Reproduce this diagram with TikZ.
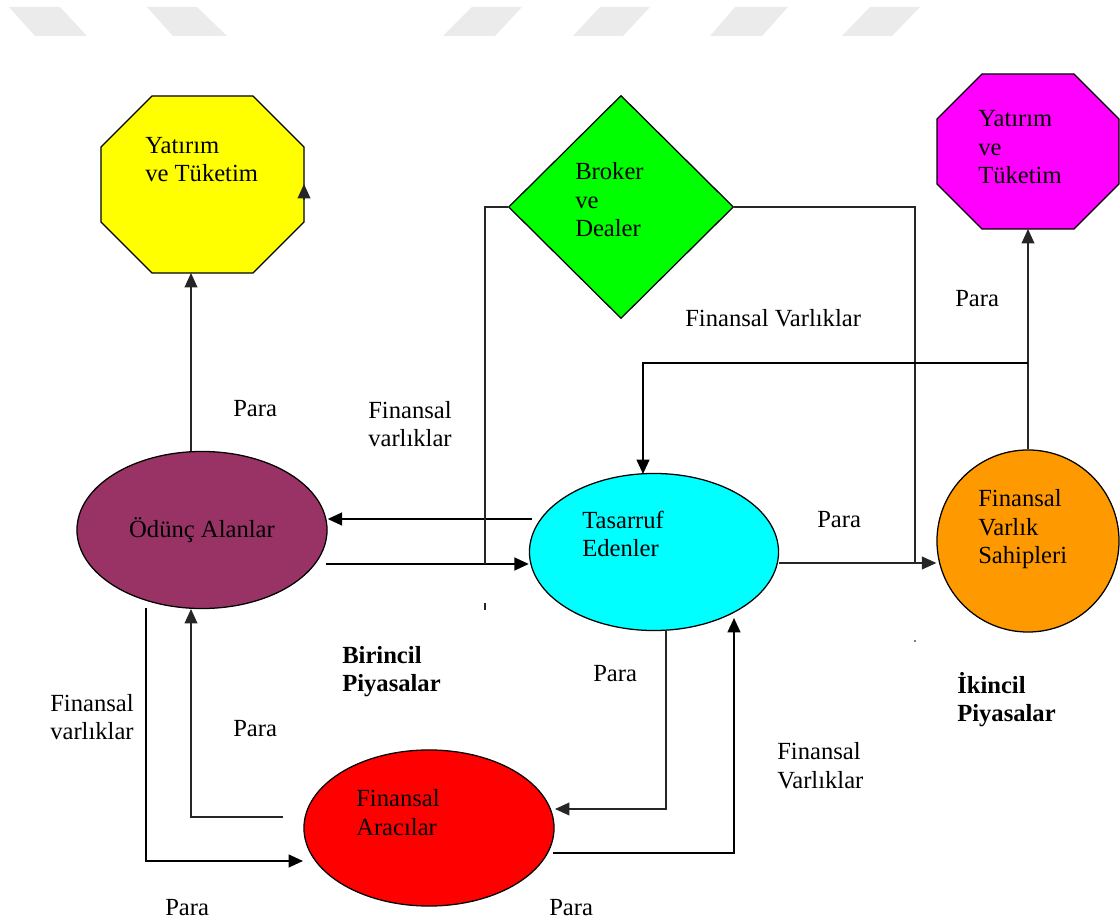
\documentclass[tikz,border=0pt]{standalone}
\usepackage{fontspec}
\setmainfont{Liberation Serif}
\usepackage{tikz}
\usetikzlibrary{arrows.meta,shapes.geometric}
\definecolor{plum}{HTML}{993366}
\definecolor{lemon}{HTML}{FFFF00}
\definecolor{lime}{HTML}{00FF00}
\definecolor{aqua}{HTML}{00FFFF}
\definecolor{pink}{HTML}{FF00FF}
\definecolor{amber}{HTML}{FF9900}
\definecolor{scarlet}{HTML}{FF0000}
\def\octa[#1](#2,#3,#4,#5)(#6){\draw[#1] (#2+#6,#3) -- (#4-#6,#3) -- (#4,#3+#6) -- (#4,#5-#6) -- (#4-#6,#5) -- (#2+#6,#5) -- (#2,#5-#6) -- (#2,#3+#6) -- cycle;}
\tikzset{
  conn/.style={line width=1.4pt},
  thinln/.style={line width=0.9pt, black!85},
  blob/.style={draw, line width=0.9pt, inner sep=0pt},
  txt/.style={anchor=base west, align=left, inner sep=0pt},
  stripe/.style={fill=black!8, draw=none},
  >={Triangle[length=0.36cm,width=0.32cm]}
}
\begin{document}
\begin{tikzpicture}[x=0.025cm, y=-0.025cm, font=\fontsize{17.5}{20.6}\selectfont]
		%%%%% START %%%%%
		\useasboundingbox (0,0) rectangle (1120,924);
		
		% faint stripes at the top
		\fill[stripe] (9,7) -- (60,7) -- (87,36) -- (35,36) -- cycle;
		\fill[stripe] (147,7) -- (197,7) -- (227,36) -- (173,36) -- cycle;
		\fill[stripe] (472,7) -- (522,7) -- (495,36) -- (443,36) -- cycle;
		\fill[stripe] (600,7) -- (650,7) -- (623,36) -- (573,36) -- cycle;
		\fill[stripe] (735,7) -- (788,7) -- (762,36) -- (710,36) -- cycle;
		\fill[stripe] (870,7) -- (920,7) -- (892,36) -- (842,36) -- cycle;
		
		% octagons (last line baseline given)
		\octa[fill=lemon, line width=0.9pt](101,96,304,273)(51);
		\node[txt] (yel-txt) at (145,182) {Yatırım\\ve Tüketim};
		\coordinate (yel-s) at (191,273);
		\draw[thinln,->] (304,200) -- (304,184);
		
		\octa[fill=pink, line width=0.9pt](937,74,1119,229)(45);
		\node[txt] (mag-txt) at (978,184) {Yatırım\\ve\\Tüketim};
		\coordinate (mag-s) at (1028,229);
		
		% diamond
		\node[blob, diamond, fill=lime, minimum width=5.625cm, minimum height=5.575cm] (broker) at (621,207) {};
		\node[txt] (brk-txt) at (575,237) {Broker\\ve\\Dealer};
		
		% ellipses and circle
		\node[blob, ellipse, fill=plum, minimum width=6.25cm, minimum height=3.925cm] (borrowers) at (202,530) {Ödünç Alanlar};
		\node[blob, ellipse, fill=aqua, minimum width=6.225cm, minimum height=3.925cm] (savers) at (654,552) {};
		\node[txt] (sav-txt) at (582,557) {Tasarruf\\Edenler};
		\node[blob, circle, fill=amber, minimum size=4.55cm] (owners) at (1028,541) {};
		\node[txt] (own-txt) at (978,564) {Finansal\\Varlık\\Sahipleri};
		\node[blob, ellipse, fill=scarlet, minimum width=6.25cm, minimum height=3.9cm] (lenders) at (429,828) {};
		\node[txt] (len-txt) at (356,835) {Finansal\\Aracılar};
		
		% connectors
		\draw[thinln,->] (borrowers.north -| yel-s) -- (yel-s);
		\coordinate (a1) at (532,519);
		\draw[conn,->] (a1) -- (a1 -| borrowers.east);
		\coordinate (b1) at (326,564);
		\draw[conn,->] (b1) -- (b1 -| savers.west);
		\coordinate (fl) at (485,564);
		\coordinate (fr) at (915,563);
		\draw[thinln] (fl) |- (broker.west);
		\draw[thinln] (broker.east) -| (fr);
		\coordinate (c1) at (779,563);
		\draw[thinln,->] (c1) -- (c1 -| owners.west);
		\draw[thinln,->] (owners.north) -- (mag-s);
		\coordinate (p1) at (1028,363);
		\coordinate (s-in) at (643,474);
		\draw[conn,->] (p1) -| (s-in);
		\coordinate (d1) at (146,608);
		\coordinate (d2) at (303,861);
		\draw[conn,->] (d1) |- (d2);
		\coordinate (e1) at (283,817);
		\coordinate (e2) at (191,609);
		\draw[thinln,->] (e1) -| (e2);
		\coordinate (g1) at (666,630);
		\coordinate (g2) at (555,809);
		\draw[thinln,->] (g1) |- (g2);
		\coordinate (h1) at (553,853);
		\coordinate (h2) at (734,618);
		\draw[conn,->] (h1) -| (h2);
		\draw[thinln] (485,603) -- (485,610);
		\fill (915,641) circle (0.8);
		
		% labels (last line baseline given)
		\node[txt] (l1) at (233,417) {Para};
		\node[txt] (l2) at (368,447) {Finansal\\varlıklar};
		\node[txt] (l3) at (685,327) {Finansal Varlıklar};
		\node[txt] (l4) at (817,528) {Para};
		\node[txt] (l5) at (955,307) {Para};
		\node[txt, font=\fontsize{17.5}{20.6}\selectfont\bfseries] (l6) at (342,692) {Birincil\\Piyasalar};
		\node[txt] (l7) at (50,740) {Finansal\\varlıklar};
		\node[txt] (l8) at (233,737) {Para};
		\node[txt] (l9) at (593,682) {Para};
		\node[txt] (l10) at (777,788) {Finansal\\Varlıklar};
		\node[txt, font=\fontsize{17.5}{20.6}\selectfont\bfseries] (l11) at (957,722) {İkincil\\Piyasalar};
		\node[txt] (l12) at (165,915) {Para};
		\node[txt] (l13) at (549,915) {Para};
		
		%%%%% END %%%%%
	\end{tikzpicture}
\end{document}
